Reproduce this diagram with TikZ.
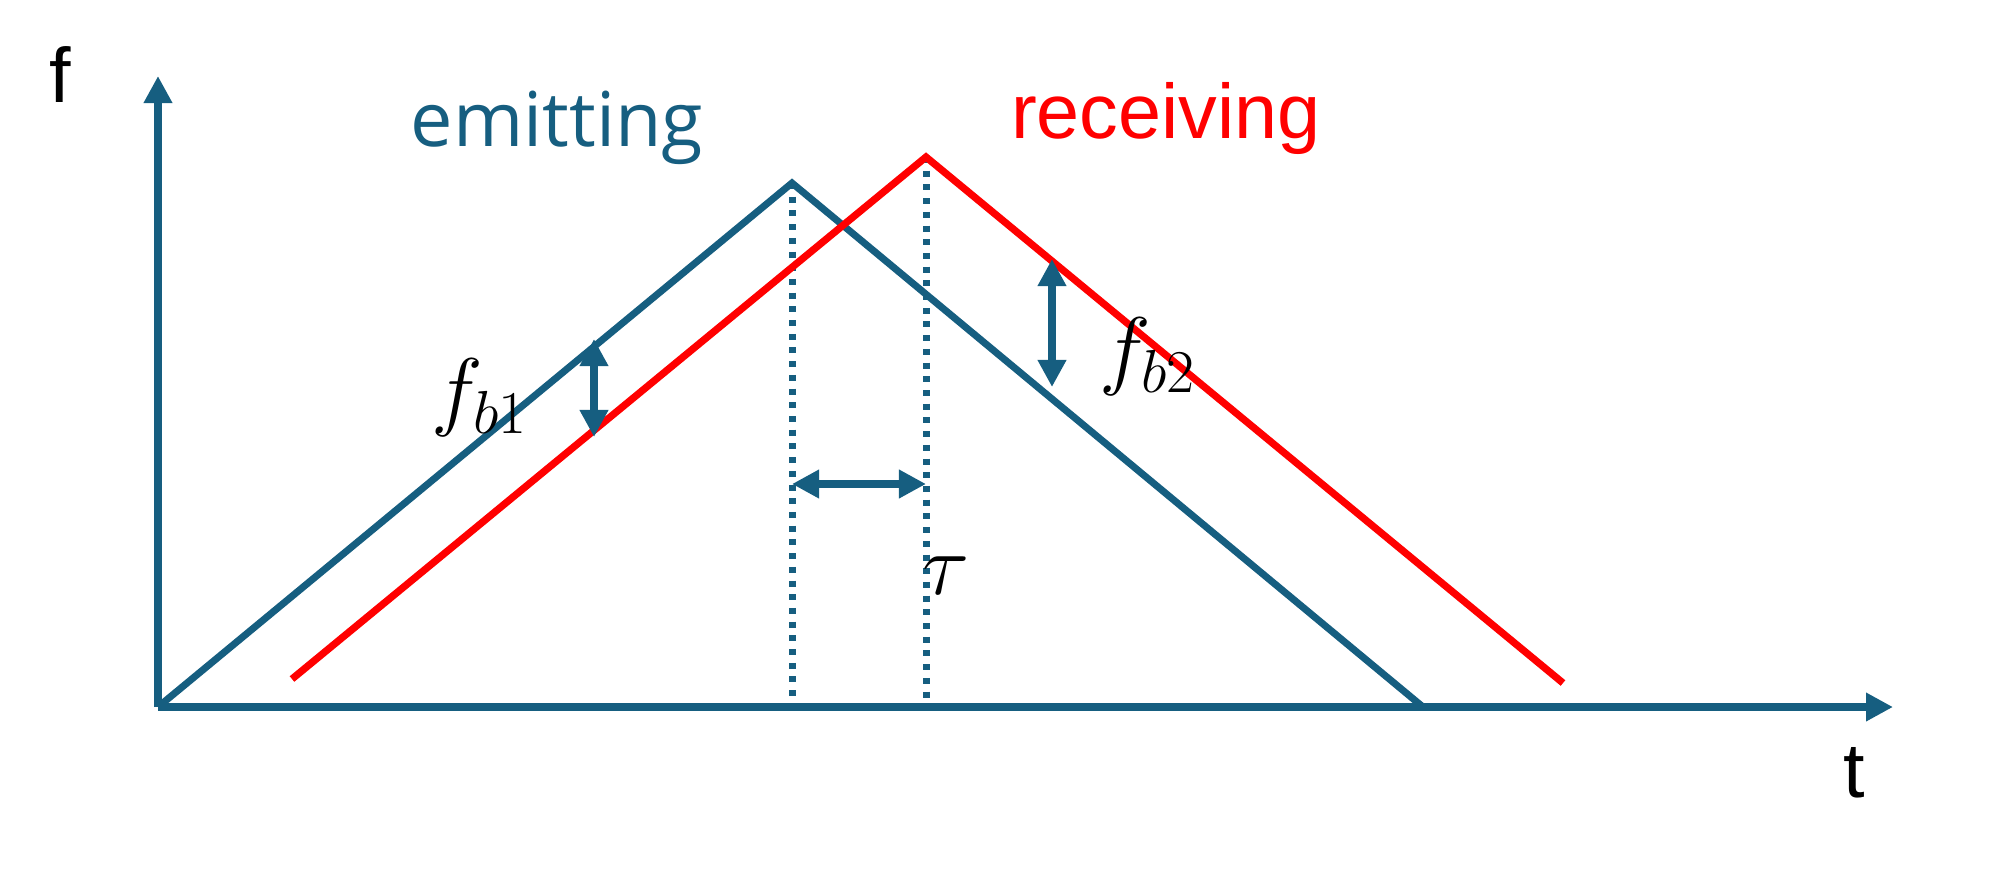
\documentclass[tikz,border=0pt]{standalone}
\usepackage{fontspec}
\setmainfont{Liberation Sans}
\newfontfamily\emitfont{Open Sans}
\usepackage{amsmath}
\usetikzlibrary{arrows.meta, positioning, calc}
\definecolor{blue1}{RGB}{22, 94, 128}
\definecolor{red1}{RGB}{255, 0, 0}

\begin{document}
\begin{tikzpicture}[x=0.01cm, y=-0.01cm,
    axis/.style={draw=blue1, line width=0.075cm, -{Triangle[length=0.27cm, width=0.27cm]}},
    emitline/.style={draw=blue1, line width=0.07cm},
    recvline/.style={draw=red1, line width=0.072cm},
    dotline/.style={draw=blue1, line width=0.07cm, dash pattern=on 0.06cm off 0.077cm},
    dimarrow/.style={draw=blue1, line width=0.075cm, {Triangle[length=0.27cm, width=0.27cm]}-{Triangle[length=0.27cm, width=0.27cm]}},
    axlabel/.style={font=\fontsize{22}{26}\selectfont, inner sep=0pt, anchor=base},
    mathlabel/.style={font=\fontsize{25.5}{30}\selectfont, inner sep=0pt}]
  \useasboundingbox (0,0) rectangle (1996,869);

  % axes
  \coordinate (O) at (158,707);
  \coordinate (ytip) at (158,76);
  \coordinate (xtip) at (1893,707);
  \draw[axis] (O) -- (ytip);
  \draw[axis] (O) -- (xtip);
  \node[axlabel] (flabel) at (60,102) {f};
  \node[axlabel] (tlabel) at (1854,797) {t};

  % emitted and received chirps
  \coordinate (epeak) at (792,183);
  \coordinate (eend) at (1423,707);
  \coordinate (rstart) at (292,679);
  \coordinate (rpeak) at (926,157);
  \coordinate (rend) at (1563,683);
  \draw[dotline] (epeak) -- (epeak |- O);
  \draw[dotline] (rpeak) -- (rpeak |- O);
  \draw[emitline] (O) -- (epeak) -- (eend);
  \draw[recvline] (rstart) -- (rpeak) -- (rend);
  \node[axlabel, text=blue1, font=\emitfont\fontsize{21.5}{26}\selectfont] (emitting) at (557,146) {emitting};
  \node[axlabel, text=red1] (receiving) at (1166,138) {receiving};

  % beat frequencies and delay
  \coordinate (fbonetop) at (594,339);
  \coordinate (fbonebot) at (594,437);
  \coordinate (fbtwotop) at (1052,259);
  \coordinate (fbtwobot) at (1052,387);
  \coordinate (tauy) at (0,484);
  \draw[dimarrow] (fbonetop) -- (fbonebot);
  \draw[dimarrow] (fbtwotop) -- (fbtwobot);
  \draw[dimarrow] (epeak |- tauy) -- (rpeak |- tauy);
  \node[mathlabel] (fbone) at (480,398) {$f_{b1}$};
  \node[mathlabel] (fbtwo) at (1148,357) {$f_{b2}$};
  \node[mathlabel] (tau) at (946,576) {$\tau$};
\end{tikzpicture}
\end{document}
